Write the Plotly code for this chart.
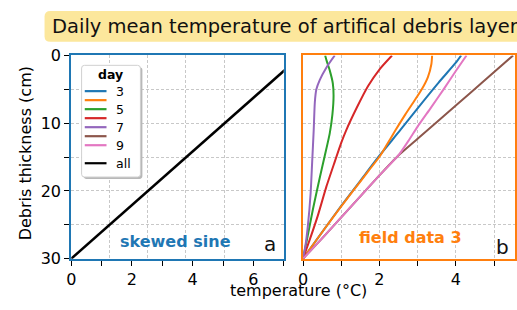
import plotly.graph_objects as go

W, H = 517, 310

# ---------------- data ----------------
days = ["3", "4", "5", "6", "7", "8", "9"]
day_labels = ["3", "", "5", "", "7", "", "9"]
day_colors = ["#1f77b4", "#ff7f0e", "#2ca02c", "#d62728", "#9467bd", "#8c564b", "#e377c2"]

# panel a: "skewed sine" (all days identical)
all_depth = [0, 30]
all_temp = [7.58, 0.0]

# panel b: "field data 3" (depth in cm, temperature in degC)
depth_day3 = [0, 1.07, 4.0, 7.8, 11.0, 14.8, 18.5, 22.2, 26.0, 30]
temp_day3 = [4.14, 4.0, 3.55, 3.0, 2.55, 2.0, 1.5, 1.0, 0.51, 0.0]
depth_day4 = [0, 1.3, 3.2, 5.0, 6.4, 8.7, 11.05, 13.4, 14.8, 17.0, 20.0, 22.2, 25.0, 27.5, 30]
temp_day4 = [3.38, 3.36, 3.27, 3.11, 2.95, 2.68, 2.42, 2.17, 2.02, 1.72, 1.31, 1.01, 0.64, 0.32, 0.0]
depth_day5 = [0, 0.8, 2.2, 4.1, 5.9, 8.7, 11.5, 14.8, 18.0, 22.7, 27.3, 30]
temp_day5 = [0.58, 0.62, 0.70, 0.78, 0.80, 0.77, 0.70, 0.57, 0.44, 0.26, 0.10, 0.0]
depth_day6 = [0, 2.0, 4.55, 7.8, 11.05, 12.9, 15.7, 19.4, 23.6, 27.3, 30]
temp_day6 = [2.33, 2.01, 1.70, 1.40, 1.13, 1.0, 0.83, 0.61, 0.39, 0.17, 0.0]
depth_day7 = [0, 1.8, 3.6, 5.0, 6.9, 11.05, 15.7, 20.3, 25.0, 28.2, 30]
temp_day7 = [0.83, 0.61, 0.44, 0.35, 0.31, 0.28, 0.24, 0.20, 0.13, 0.06, 0.0]
depth_day8 = [0, 3.7, 7.4, 12.3, 14.8, 17.7, 20.8, 23.9, 27.0, 30]
temp_day8 = [5.50, 4.75, 4.0, 3.0, 2.49, 2.0, 1.5, 1.0, 0.5, 0.0]
depth_day9 = [0, 2.3, 5.0, 7.7, 10.5, 12.6, 14.8, 17.7, 20.8, 23.9, 27.0, 30]
temp_day9 = [4.28, 4.0, 3.68, 3.35, 3.0, 2.76, 2.49, 2.0, 1.5, 1.0, 0.5, 0.0]
depths_b = [depth_day3, depth_day4, depth_day5, depth_day6, depth_day7, depth_day8, depth_day9]
temps_b = [temp_day3, temp_day4, temp_day5, temp_day6, temp_day7, temp_day8, temp_day9]

xa_tickvals = [0, 1, 2, 3, 4, 5, 6, 7]
xa_ticktext = ["0", "", "2", "", "4", "", "6", ""]
xb_tickvals = [0, 1, 2, 3, 4, 5]
xb_ticktext = ["0", "", "2", "", "4", ""]
y_tickvals = [0, 5, 10, 15, 20, 25, 30]
y_ticktext = ["0", "", "10", "", "20", "", "30"]
xa_grid = [1.26, 2.52, 3.78, 5.04]

title_text = "Daily mean temperature of artifical debris layer"
xlabel = "temperature (°C)"
ylabel = "Debris thickness (cm)"

# ---------------- helpers ----------------
def px(x):
    return x / W

def py(y):
    return 1 - y / H

FONT = "DejaVu Sans"
C_A = "#1f77b4"
C_B = "#ff7f0e"

fig = go.Figure()

fig.add_trace(go.Scatter(x=all_temp, y=all_depth, mode="lines",
                         line=dict(color="black", width=2.5),
                         xaxis="x", yaxis="y", showlegend=False))
for d, t, c in zip(depths_b, temps_b, day_colors):
    fig.add_trace(go.Scatter(x=t, y=d, mode="lines",
                             line=dict(color=c, width=2, shape="spline", smoothing=0.6),
                             xaxis="x2", yaxis="y2", showlegend=False))

grid_col = "#c8c8c8"
common_x = dict(ticks="outside", ticklen=5, tickwidth=1, tickcolor="black",
                tickfont=dict(family=FONT, size=16, color="black"),
                showline=True, linewidth=2, mirror=True, zeroline=False)

fig.update_layout(
    width=W, height=H,
    margin=dict(l=0, r=0, t=0, b=0),
    paper_bgcolor="white", plot_bgcolor="white",
    showlegend=False,
    xaxis=dict(domain=[px(67), px(282)], range=[0, 7], anchor="y",
               tickvals=xa_tickvals, ticktext=xa_ticktext,
               linecolor=C_A, showgrid=False,
               minor=dict(tickvals=xa_grid, showgrid=True, gridcolor=grid_col,
                          griddash="3px,2px", gridwidth=1, ticks=""),
               **common_x),
    yaxis=dict(domain=[py(266), py(49.5)], range=[30, 0], anchor="x",
               tickvals=y_tickvals, ticktext=y_ticktext,
               ticks="outside", ticklen=5, tickwidth=1, tickcolor="black",
               tickfont=dict(family=FONT, size=16, color="black"),
               showline=True, linewidth=2, mirror=True, linecolor=C_A,
               showgrid=True, gridcolor=grid_col, griddash="3px,2px", gridwidth=1,
               zeroline=False),
    xaxis2=dict(domain=[px(301.5), px(516)], range=[0, 5.55], anchor="y2",
                tickvals=xb_tickvals, ticktext=xb_ticktext,
                linecolor=C_B, showgrid=True, gridcolor=grid_col,
                griddash="3px,2px", gridwidth=1,
                **common_x),
    yaxis2=dict(domain=[py(266), py(49.5)], range=[30, 0], anchor="x2",
                tickvals=y_tickvals, showticklabels=False, ticks="",
                showline=True, linewidth=2, mirror=True, linecolor=C_B,
                showgrid=True, gridcolor=grid_col, griddash="3px,2px", gridwidth=1,
                zeroline=False),
)

shapes = []
# title box (rounded left corners, runs off the right edge)
r = 6
x0, x1, y0, y1 = 40, 530, 2, 35
path = (f"M {px(x0+r)},{py(y0)} L {px(x1)},{py(y0)} L {px(x1)},{py(y1)} "
        f"L {px(x0+r)},{py(y1)} Q {px(x0)},{py(y1)} {px(x0)},{py(y1-r)} "
        f"L {px(x0)},{py(y0+r)} Q {px(x0)},{py(y0)} {px(x0+r)},{py(y0)} Z")
shapes.append(dict(type="path", path=path, xref="paper", yref="paper",
                   fillcolor="#fce79c", line=dict(width=0), layer="below"))

# legend box (drawn manually, matplotlib style)
lx0, lx1, ly0, ly1 = 77.5, 137, 60, 179
def rrect(a0, a1, b0, b1, rr):
    return (f"M {px(a0+rr)},{py(b0)} L {px(a1-rr)},{py(b0)} Q {px(a1)},{py(b0)} {px(a1)},{py(b0+rr)} "
            f"L {px(a1)},{py(b1-rr)} Q {px(a1)},{py(b1)} {px(a1-rr)},{py(b1)} "
            f"L {px(a0+rr)},{py(b1)} Q {px(a0)},{py(b1)} {px(a0)},{py(b1-rr)} "
            f"L {px(a0)},{py(b0+rr)} Q {px(a0)},{py(b0)} {px(a0+rr)},{py(b0)} Z")
shapes.append(dict(type="path", path=rrect(lx0+2, lx1+2, ly0+2, ly1+2, 3), xref="paper", yref="paper",
                   fillcolor="#b8b8b8", line=dict(width=0)))
shapes.append(dict(type="path", path=rrect(lx0, lx1, ly0, ly1, 3), xref="paper", yref="paper",
                   fillcolor="white", line=dict(color="#d0d0d0", width=1)))

row_y = [87.5, 97.1, 106.7, 116.3, 125.9, 135.5, 145.1]
annotations = []
for yy, c, lab in zip(row_y, day_colors, day_labels):
    shapes.append(dict(type="line", xref="paper", yref="paper",
                       x0=px(80.7), x1=px(102.7), y0=py(yy), y1=py(yy),
                       line=dict(color=c, width=2.2)))
    if lab:
        annotations.append(dict(text=lab, x=px(110), y=py(yy), xref="paper", yref="paper",
                                xanchor="left", yanchor="middle", showarrow=False,
                                font=dict(family=FONT, size=12.5, color="black")))
all_y = 164.3
shapes.append(dict(type="line", xref="paper", yref="paper",
                   x0=px(80.7), x1=px(102.7), y0=py(all_y), y1=py(all_y),
                   line=dict(color="black", width=2.2)))
annotations.append(dict(text="all", x=px(110), y=py(all_y), xref="paper", yref="paper",
                        xanchor="left", yanchor="middle", showarrow=False,
                        font=dict(family=FONT, size=12.5, color="black")))
annotations.append(dict(text="<b>day</b>", x=px(106.5), y=py(70), xref="paper", yref="paper",
                        xanchor="center", yanchor="middle", showarrow=False,
                        font=dict(family=FONT, size=12.5, color="black")))

# title
annotations.append(dict(text=title_text, x=px(46), y=py(19), xref="paper", yref="paper",
                        xanchor="left", yanchor="middle", showarrow=False,
                        font=dict(family=FONT, size=19.5, color="#111111")))
# axis titles
annotations.append(dict(text=xlabel, x=px(297), y=py(300), xref="paper", yref="paper",
                        xanchor="center", yanchor="middle", showarrow=False,
                        font=dict(family=FONT, size=16, color="black")))
annotations.append(dict(text=ylabel, x=px(21), y=py(154), xref="paper", yref="paper",
                        xanchor="center", yanchor="middle", showarrow=False, textangle=-90,
                        font=dict(family=FONT, size=16, color="black")))
# panel annotations
annotations.append(dict(text="<b>skewed sine</b>", x=px(173), y=py(248), xref="paper", yref="paper",
                        xanchor="center", yanchor="middle", showarrow=False,
                        font=dict(family=FONT, size=16, color=C_A)))
annotations.append(dict(text="<b>field data 3</b>", x=px(410), y=py(243), xref="paper", yref="paper",
                        xanchor="center", yanchor="middle", showarrow=False,
                        font=dict(family=FONT, size=16, color=C_B)))
annotations.append(dict(text="a", x=px(268.5), y=py(250), xref="paper", yref="paper",
                        xanchor="center", yanchor="middle", showarrow=False,
                        font=dict(family=FONT, size=20, color="#111111")))
annotations.append(dict(text="b", x=px(503), y=py(254), xref="paper", yref="paper",
                        xanchor="center", yanchor="middle", showarrow=False,
                        font=dict(family=FONT, size=20, color="#111111")))

fig.update_layout(shapes=shapes, annotations=annotations)

pin_js = ("document.documentElement.style.margin='0px';"
          "document.body.style.margin='0px';"
          "document.body.style.overflow='hidden';"
          "var gd=document.getElementById('{plot_id}');"
          "gd.style.position='fixed';gd.style.left='0px';gd.style.top='0px';")
fig.write_html("out.html", config={"displayModeBar": False}, post_script=pin_js)
